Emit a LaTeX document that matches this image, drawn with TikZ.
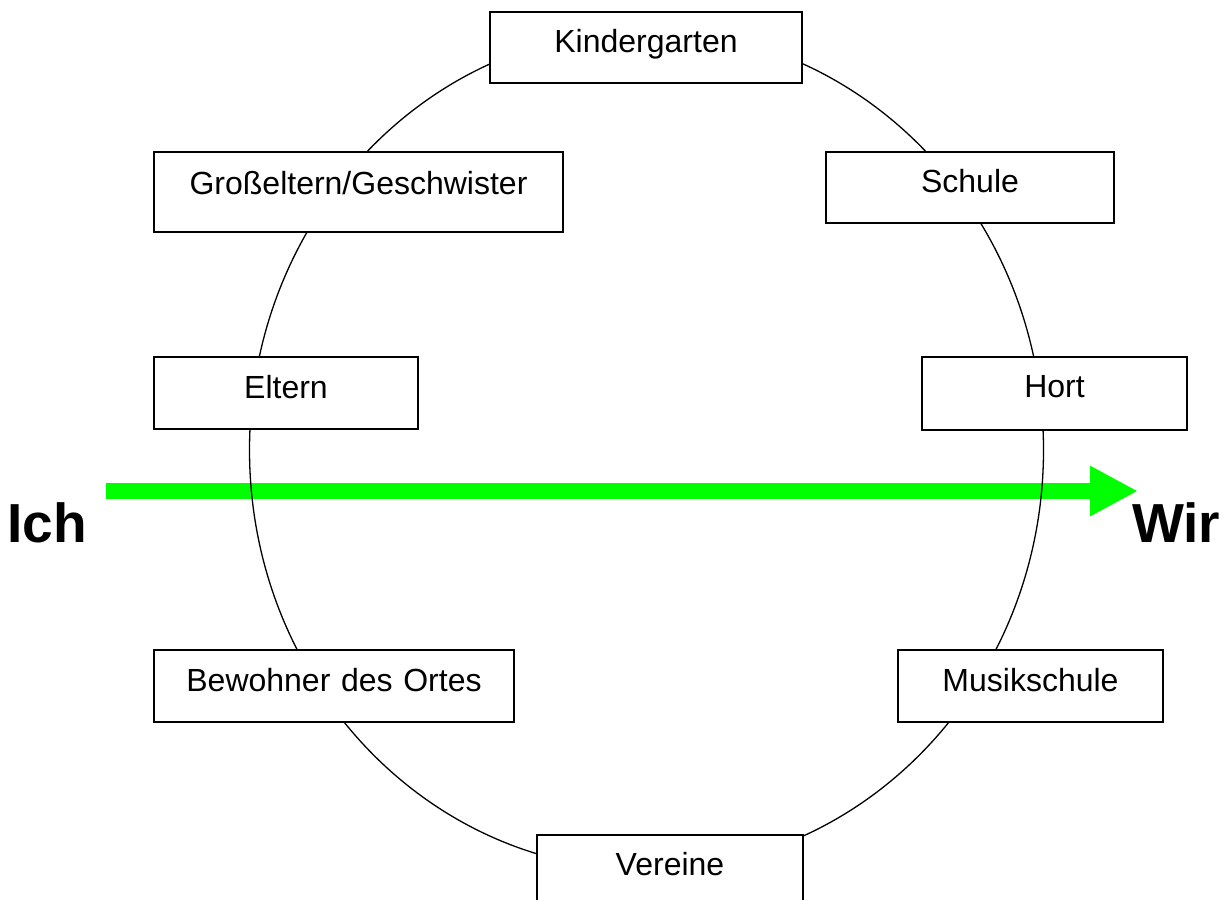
\documentclass[tikz,border=0pt]{standalone}
\usepackage{fontspec}
\setmainfont{Liberation Sans}
\usetikzlibrary{arrows.meta}
\definecolor{arrowgreen}{HTML}{00FF00}
\tikzset{
  boxnode/.style={draw=black, line width=1.8pt, fill=white, rectangle, anchor=north,
    inner sep=0pt, align=center, font=\fontsize{32}{37}\selectfont},
  bigword/.style={font=\fontsize{55}{62}\selectfont\bfseries, inner sep=0pt},
  ring/.style={draw=black, line width=1.3pt},
  flow/.style={draw=arrowgreen, line width=16pt, -{Triangle[length=48pt,width=47pt]}}
}
\begin{document}
\begin{tikzpicture}[x=1pt,y=-1pt]
\useasboundingbox (0,0) rectangle (1228,899);
\clip (0,0) rectangle (1228,899);
% green arrow
\coordinate (ichend) at (106,491);
\coordinate (wirend) at (1138,491);
\draw[flow] (ichend) -- (wirend);
% ring
\draw[ring] (646.5,450) ellipse [x radius=397, y radius=420];
% boxes: at (centre x, top)
\node[boxnode, text width=312pt, text height=41pt, text depth=30pt] (kg) at (646,11) {Kindergarten};
\node[boxnode, text width=409pt, text height=43pt, text depth=37pt] (ge) at (358.5,151) {Großeltern/Geschwister};
\node[boxnode, text width=288pt, text height=41pt, text depth=30pt] (sc) at (970,151) {Schule};
\node[boxnode, text width=264pt, text height=42pt, text depth=30pt] (el) at (286,356) {Eltern};
\node[boxnode, text width=265pt, text height=41pt, text depth=32pt] (ho) at (1054.5,356) {Hort};
\node[boxnode, text width=360pt, text height=42pt, text depth=30pt] (bw) at (334,649) {Bewohner des Ortes};
\node[boxnode, text width=265pt, text height=42pt, text depth=30pt] (ms) at (1030.5,649) {Musikschule};
\node[boxnode, text width=266pt, text height=41pt, text depth=40pt] (ve) at (670,834) {Vereine};
% labels
\node[bigword, anchor=base west] (ich) at (7,542) {Ich};
\node[bigword, anchor=base west] (wir) at (1132,542) {Wir};
\end{tikzpicture}
\end{document}
